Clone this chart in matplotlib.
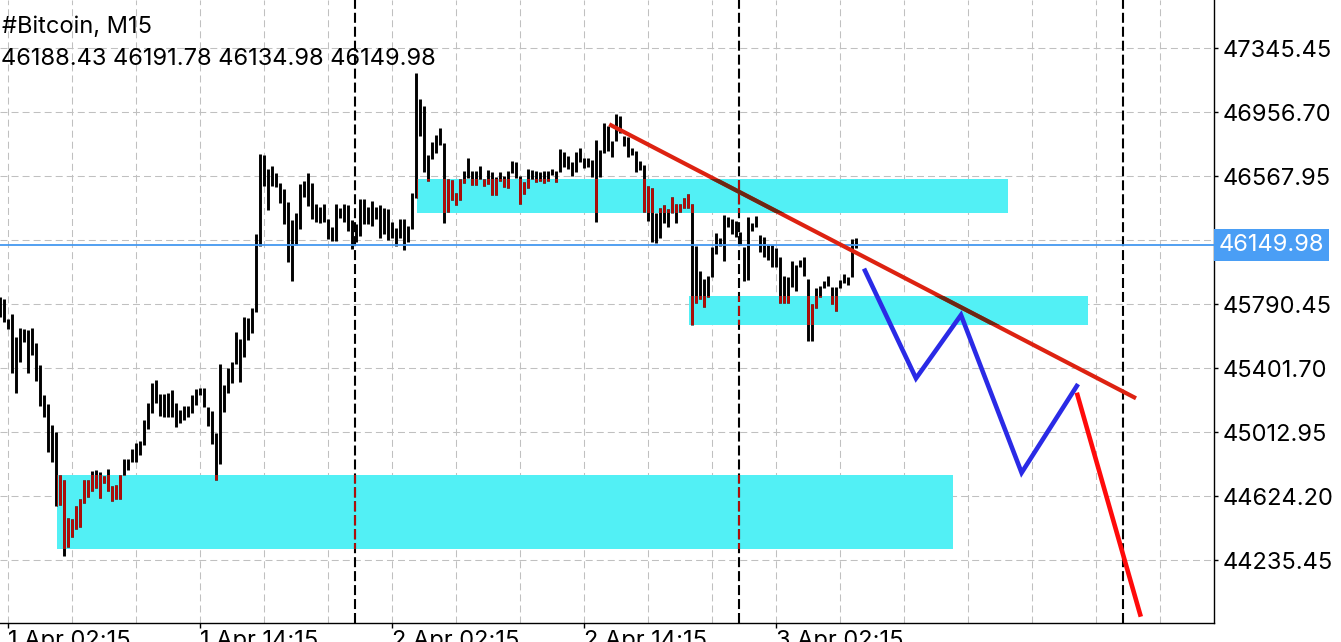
import matplotlib
matplotlib.use("Agg")
import matplotlib.pyplot as plt
import matplotlib.patches as mpatches
import numpy as np

plt.rcParams['font.family'] = ['Inter', 'DejaVu Sans']

# M15 bars, index 0 = 1 Apr 02:15
first_bar = -2
highs = [45832.9, 45824.4, 45699.3, 45731.5, 45593.6, 45644.6, 45640.4, 45634.3, 45644.6, 45557.2,
         45421.7, 45239.5, 45184.8, 45057.3, 45014.7, 44753.6, 44723.2, 44490.5, 44484.5, 44565.3,
         44605.9, 44723.2, 44723.2, 44777.9, 44783.9, 44771.8, 44749.3, 44788.2, 44686.7, 44692.8,
         44753.6, 44848.9, 44850.7, 44913.3, 44947.9, 44961.9, 45087.6, 45189.1, 45310.6, 45330.6,
         45245.6, 45245.6, 45249.8, 45269.9, 45189.1, 45148.4, 45172.7, 45172.7, 45237.7, 45274.1,
         45282.0, 45282.0, 45168.4, 45140.5, 45010.5, 45427.8, 45300.2, 45401.7, 45441.8, 45622.2,
         45577.8, 45715.1, 45705.4, 45766.1, 46217.4, 46703.4, 46699.1, 46614.1, 46630.5, 46586.1,
         46525.4, 46489.0, 46413.6, 46302.5, 46343.2, 46521.1, 46539.4, 46586.1, 46529.0, 46397.8,
         46381.4, 46397.8, 46308.6, 46260.0, 46397.8, 46373.5, 46397.8, 46393.6, 46302.5, 46276.3,
         46430.0, 46430.0, 46383.3, 46417.9, 46381.4, 46393.6, 46377.2, 46369.3, 46292.2, 46252.1,
         46308.6, 46308.6, 46264.2, 46468.3, 47195.4, 47037.5, 46993.1, 46697.3, 46775.0, 46818.8,
         46859.5, 46768.4, 46553.3, 46545.4, 46464.7, 46553.3, 46600.1, 46677.3, 46600.1, 46600.1,
         46630.5, 46553.3, 46606.2, 46595.9, 46561.8, 46595.9, 46569.7, 46600.1, 46660.8, 46654.8,
         46569.7, 46535.1, 46610.4, 46606.2, 46600.1, 46595.9, 46600.1, 46600.1, 46612.3, 46600.1,
         46733.7, 46715.5, 46691.2, 46654.8, 46717.4, 46738.0, 46677.3, 46677.3, 46666.9, 46788.4,
         46727.7, 46889.8, 46873.5, 46784.2, 46946.3, 46934.2, 46812.7, 46804.8, 46738.0, 46723.4,
         46662.7, 46636.6, 46509.0, 46495.0, 46343.2, 46373.5, 46393.6, 46367.5, 46444.0, 46399.7,
         46399.7, 46434.3, 46460.4, 46399.7, 46144.5, 45994.5, 45942.3, 45962.3, 46140.3, 46225.3,
         46191.3, 46332.8, 46318.9, 46306.7, 46298.2, 46231.4, 46136.6, 46318.9, 46286.1, 46326.8,
         46211.4, 46197.4, 46150.6, 46150.6, 46130.6, 46075.9, 45962.3, 45958.1, 46051.6, 46029.1,
         46059.5, 46075.9, 45942.3, 45792.2, 45887.6, 45901.6, 45933.8, 45962.3, 45893.7, 45893.7,
         45938.0, 45974.5, 45958.1, 46185.2, 46191.78]
lows = [45715.1, 45684.7, 45642.2, 45374.9, 45253.5, 45441.8, 45563.3, 45374.9, 45482.5, 45326.3,
        45172.7, 45107.7, 44895.1, 44834.3, 44565.3, 44571.3, 44261.5, 44318.0, 44378.8, 44427.4,
        44439.5, 44585.3, 44618.1, 44658.2, 44674.6, 44613.9, 44706.8, 44658.2, 44597.5, 44609.6,
        44609.6, 44753.6, 44783.9, 44834.3, 44834.3, 44876.9, 44933.9, 45034.8, 45132.0, 45189.1,
        45111.9, 45107.7, 45104.0, 45104.0, 45043.3, 45071.2, 45087.6, 45107.7, 45128.3, 45178.7,
        45239.5, 45168.4, 45051.2, 44941.9, 44723.2, 44820.4, 45138.1, 45249.8, 45310.6, 45427.8,
        45320.3, 45472.1, 45573.6, 45614.3, 45745.5, 46144.5, 46509.0, 46363.2, 46509.0, 46504.7,
        46407.6, 46278.2, 46049.2, 45932.0, 46150.6, 46247.8, 46444.0, 46389.3, 46308.6, 46292.2,
        46282.4, 46288.5, 46187.1, 46174.9, 46174.9, 46316.5, 46292.2, 46235.7, 46126.3, 46167.0,
        46207.1, 46276.3, 46276.3, 46267.8, 46308.6, 46195.0, 46215.6, 46181.0, 46191.3, 46146.4,
        46191.3, 46118.4, 46167.0, 46247.8, 46437.9, 46814.5, 46594.0, 46542.4, 46674.2, 46711.3,
        46758.0, 46286.1, 46351.1, 46424.0, 46393.6, 46424.0, 46529.0, 46555.8, 46515.1, 46515.1,
        46551.5, 46509.0, 46521.1, 46454.3, 46454.3, 46541.2, 46501.1, 46495.0, 46589.8, 46559.4,
        46397.8, 46460.4, 46498.7, 46553.3, 46535.1, 46539.4, 46529.0, 46541.2, 46575.8, 46535.1,
        46595.9, 46627.4, 46612.3, 46569.7, 46595.9, 46656.6, 46616.5, 46622.6, 46565.5, 46292.2,
        46565.5, 46711.3, 46723.4, 46683.3, 46784.2, 46832.8, 46752.0, 46687.0, 46697.3, 46595.9,
        46606.2, 46352.9, 46298.2, 46170.7, 46160.9, 46191.3, 46282.4, 46258.1, 46343.2, 46282.4,
        46352.9, 46373.5, 46373.5, 45664.7, 45796.5, 45820.8, 45772.2, 45832.9, 45954.4, 46096.0,
        46144.5, 46055.3, 46261.8, 46217.4, 46197.4, 46150.6, 45933.8, 45938.0, 46237.5, 46261.8,
        46109.9, 46075.9, 46059.5, 46018.8, 46015.2, 45800.1, 45800.1, 45800.1, 45893.7, 45873.0,
        46018.8, 45962.3, 45569.3, 45569.3, 45766.1, 45836.6, 45887.6, 45901.6, 45792.2, 45751.5,
        45887.6, 45918.0, 45907.7, 45954.4, 46134.98]

# header (last bar OHLC)
symbol = '#Bitcoin, M15'
ohlc = [46188.43, 46191.78, 46134.98, 46149.98]
last_price = 46149.98

# price scale
price_levels = [44235.45, 44624.20, 45012.95, 45401.70, 45790.45, 46179.20, 46567.95, 46956.70, 47345.45]
y_min, y_max = 43854.6, 47638.8

# time scale
date_ticks = [0, 48, 96, 144, 192]
date_labels = ['1 Apr 02:15', '1 Apr 14:15', '2 Apr 02:15', '2 Apr 14:15', '3 Apr 02:15']
grid_bars = list(range(0, 300, 16))
day_separators = [86.75, 182.75, 278.75]
x_min, x_max = -2, 301.5

# supply/demand zones
zone_start = [102.3, 170.3, 12.35]
zone_end = [250.0, 270.0, 236.25]
zone_top = [46551.5, 45840.8, 44753.6]
zone_bottom = [46346.8, 45664.7, 44306.0]

# trend line and projected path
trend_x = [150.3, 282.0]
trend_y = [46883.8, 45219.5]
path_x = [214.25, 227.0, 238.25, 253.4, 267.2]
path_y = [45994.5, 45340.9, 45725.4, 44767.5, 45294.2]
drop_x = [267.2, 283.2]
drop_y = [45253.5, 43892.9]

CYAN = '#52f0f5'
XOR_RED = '#ad0f0a'   # black drawn over cyan
TREND = '#dd2211'
TREND_XOR = '#6a2814'

fig = plt.figure(figsize=(13.41, 6.42), dpi=100)
ax = fig.add_axes([0, 19 / 642, 1214 / 1341, 623 / 642])
ax.set_xlim(x_min, x_max)
ax.set_ylim(y_min, y_max)

bar_idx = np.arange(first_bar, first_bar + len(highs))

# grid
grid_style = dict(color='#c0c0c0', lw=0.75, ls=(0, (6.7, 3.9)), zorder=0.5)
for g in grid_bars:
    ax.axvline(g, **grid_style)
for p in price_levels:
    ax.axhline(p, **grid_style)

# zones
zones = []
for x0, x1, lo, hi in zip(zone_start, zone_end, zone_bottom, zone_top):
    r = mpatches.Rectangle((x0, lo), x1 - x0, hi - lo, fc=CYAN, ec='none', zorder=1)
    ax.add_patch(r)
    zones.append(r)

# day separators
for d in day_separators:
    ax.axvline(d, color='black', lw=1.5, ls=(0, (4.8, 1.9)), zorder=2)
    for r in zones:
        ln = ax.axvline(d, color=XOR_RED, lw=1.5, ls=(0, (4.8, 1.9)), zorder=2.1)
        ln.set_clip_path(r)

# bars
ax.vlines(bar_idx, lows, highs, colors='black', lw=2.1, zorder=3)
for r in zones:
    red = ax.vlines(bar_idx, lows, highs, colors=XOR_RED, lw=2.1, zorder=3.1)
    red.set_clip_path(r)

# current price line
ax.axhline(last_price, color='#4499f0', lw=1.3, zorder=3.5)

# trend line
ax.plot(trend_x, trend_y, color=TREND, lw=3, solid_capstyle='butt', zorder=4)
for r in zones[:2]:
    tl, = ax.plot(trend_x, trend_y, color=TREND_XOR, lw=3, solid_capstyle='butt', zorder=4.1)
    tl.set_clip_path(r)

ax.plot(path_x, path_y, color='#2a2ae6', lw=3.3, solid_joinstyle='miter', zorder=5)
ax.plot(drop_x, drop_y, color='#ff0a0a', lw=3.3, solid_capstyle='butt', zorder=5)

# axes
for s in ['left', 'top']:
    ax.spines[s].set_visible(False)
ax.spines['right'].set_linewidth(1)
ax.spines['bottom'].set_linewidth(1)
ax.yaxis.tick_right()
ax.set_yticks(price_levels)
ax.set_yticklabels(['%.2f' % p if abs(p - 46179.20) > 1 else '' for p in price_levels])
ax.tick_params(axis='y', direction='out', length=3, width=1, pad=3, labelsize=17)
ax.set_xticks(date_ticks)
ax.set_xticklabels(date_labels)
ax.tick_params(axis='x', direction='out', length=3.6, width=1, pad=1.5, labelsize=17)
for t in ax.get_xticklabels():
    t.set_ha('left')

ax.annotate('%.2f' % last_price, xy=(1, last_price), xycoords=('axes fraction', 'data'),
            xytext=(3.5, 0), textcoords='offset points', ha='left', va='center',
            color='white', fontsize=17, zorder=10, annotation_clip=False,
            bbox=dict(boxstyle='square,pad=0.2', fc='#4a9ef5', ec='none'))

fig.text(2 / 1341, 1 - 33.3 / 642, symbol, fontsize=17, va='baseline')
fig.text(1 / 1341, 1 - 65 / 642, ' '.join('%.2f' % v for v in ohlc), fontsize=17, va='baseline')

fig.savefig('out.png', dpi=100)
